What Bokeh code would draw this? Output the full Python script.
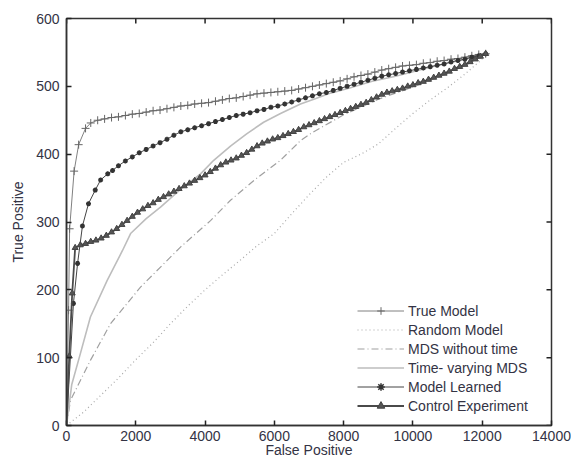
import math
from bokeh.plotting import figure
from bokeh.models import SingleIntervalTicker, Legend, LegendItem, Range1d
from bokeh.embed import file_html
from bokeh.resources import INLINE

# ---------------- data ----------------
true_x = [0, 60, 90, 220, 350, 550, 700, 900, 1100, 1300, 1500, 1700, 1900, 2100, 2300, 2500,
          2700, 2900, 3100, 3300, 3500, 3700, 3900, 4100, 4300, 4500, 4700, 4900, 5100, 5300,
          5500, 5700, 5900, 6100, 6300, 6500, 6700, 6900, 7100, 7300, 7500, 7700, 7900, 8100,
          8300, 8500, 8700, 8900, 9100, 9300, 9500, 9700, 9900, 10100, 10300, 10500, 10700,
          10900, 11100, 11300, 11500, 11700, 11900, 12100]
true_y = [0, 170, 290, 375, 414, 438, 446, 450, 452, 454, 455, 457, 459, 460, 462, 464,
          465, 467, 469, 471, 472, 474, 475, 476, 478, 480, 482, 483, 485, 487,
          489, 490, 491, 492, 493, 494, 496, 498, 500, 502, 504, 506, 508, 511,
          514, 516, 518, 521, 524, 526, 528, 530, 531, 532, 534, 535, 537,
          538, 540, 541, 543, 545, 547, 548]

rand_x = [0, 500, 1000, 1500, 2000, 2500, 3000, 3500, 4000, 4500, 5000, 5500, 6000, 6500,
          7000, 7500, 8000, 8500, 9000, 9500, 10000, 10500, 11000, 11500, 12000]
rand_y = [0, 20, 45, 70, 97, 122, 150, 176, 200, 222, 243, 265, 283, 312,
          340, 366, 388, 400, 415, 438, 460, 480, 498, 518, 540]

mds_x = [0, 115, 690, 1270, 2136, 3290, 4157, 4734, 5500, 6178, 6755, 7100, 8000, 9000,
         10000, 11000, 12000]
mds_y = [0, 37, 96, 150, 204, 263, 302, 332, 365, 391, 420, 432, 458, 481,
         499, 519, 543]

tv_x = [0, 150, 400, 690, 1175, 1617, 1850, 2300, 2714, 3290, 3870, 4250, 4734, 5200,
        5690, 6178, 6755, 7200, 7621, 8200, 8800, 9500, 10500, 11500, 12000]
tv_y = [0, 60, 106, 160, 214, 258, 283, 305, 322, 348, 371, 391, 412, 430,
        447, 460, 474, 482, 490, 498, 507, 515, 528, 540, 545]

learn_x = [0, 200, 320, 460, 635, 830, 985, 1190, 1330, 1500, 1700, 1900, 2100, 2300, 2500,
           2700, 2900, 3100, 3300, 3500, 3700, 3900, 4100, 4300, 4500, 4700, 4900, 5100,
           5300, 5500, 5700, 5900, 6100, 6300, 6500, 6700, 6900, 7100, 7300, 7500, 7700,
           7900, 8100, 8300, 8500, 8700, 8900, 9100, 9300, 9500, 9700, 9900, 10100, 10300,
           10500, 10700, 10900, 11100, 11300, 11500, 11700, 11900, 12100]
learn_y = [0, 180, 239, 294, 327, 347, 362, 371, 376, 383, 390, 396, 402, 407, 412,
           417, 422, 428, 433, 436, 439, 442, 445, 448, 451, 454, 457, 459,
           461, 464, 466, 469, 471, 474, 477, 480, 483, 486, 489, 491, 494,
           497, 500, 503, 506, 509, 512, 515, 517, 519, 521, 523, 525, 527,
           529, 531, 533, 536, 538, 540, 543, 545, 548]

ctrl_x = [0, 80, 165, 250, 400, 550, 700, 850, 1000, 1150, 1300, 1450, 1600, 1750, 1900,
          2050, 2200, 2350, 2500, 2650, 2800, 2950, 3100, 3250, 3400, 3550, 3700, 3850,
          4000, 4150, 4300, 4450, 4600, 4750, 4900, 5050, 5200, 5350, 5500, 5650, 5800,
          5950, 6100, 6250, 6400, 6550, 6700, 6850, 7000, 7150, 7300, 7450, 7600, 7750,
          7900, 8050, 8200, 8350, 8500, 8650, 8800, 8950, 9100, 9250, 9400, 9550, 9700,
          9850, 10000, 10150, 10300, 10450, 10600, 10750, 10900, 11050, 11200, 11350,
          11500, 11650, 11800, 11950, 12100]
ctrl_y = [0, 102, 195, 262, 266, 268, 271, 273, 276, 280, 285, 290, 296, 302, 308,
          314, 319, 324, 328, 333, 337, 341, 345, 349, 353, 357, 361, 365,
          369, 374, 379, 384, 388, 391, 394, 398, 402, 407, 412, 416, 419,
          422, 424, 427, 430, 433, 436, 440, 443, 446, 449, 452, 455, 458,
          461, 464, 467, 470, 473, 476, 480, 484, 488, 491, 493, 495, 497,
          500, 502, 505, 507, 510, 513, 516, 519, 522, 526, 529,
          532, 536, 540, 544, 548]

series_names = ["True Model", "Random Model", "MDS without time", "Time- varying MDS",
                "Model Learned", "Control Experiment"]
x_ticks = [0, 2000, 4000, 6000, 8000, 10000, 12000, 14000]
y_ticks = [0, 100, 200, 300, 400, 500, 600]
x_label = "False Positive"
y_label = "True Positive"
X_MAX, Y_MAX = 14000, 600

# ---------------- figure ----------------
TXT = "#333344"
FONT = "Liberation Sans"

p = figure(width=571, height=461, output_backend="svg", toolbar_location=None,
           x_range=Range1d(0, X_MAX), y_range=Range1d(0, Y_MAX),
           min_border_left=66, min_border_right=20, min_border_top=18, min_border_bottom=36)
p.background_fill_color = "white"
p.border_fill_color = "white"
p.outline_line_color = "#333333"
p.outline_line_width = 1.5
p.grid.visible = False

for ax in (p.xaxis[0], p.yaxis[0]):
    ax.major_tick_in = 5
    ax.major_tick_out = 0
    ax.minor_tick_line_color = None
    ax.axis_line_color = "#333333"
    ax.axis_line_width = 1.5
    ax.major_tick_line_color = "#222222"
    ax.major_tick_line_width = 1.5
    ax.major_label_text_font = FONT
    ax.major_label_text_font_size = "14px"
    ax.major_label_text_color = TXT
    ax.major_label_standoff = 3
    ax.axis_label_text_font = FONT
    ax.axis_label_text_font_size = "14px"
    ax.axis_label_text_font_style = "normal"
    ax.axis_label_text_color = TXT
p.xaxis.ticker = SingleIntervalTicker(interval=2000)
p.yaxis.ticker = SingleIntervalTicker(interval=100)
p.xaxis.axis_label = x_label
p.yaxis.axis_label = y_label
p.xaxis.major_label_standoff = 1
p.xaxis.axis_label_standoff = -2
p.yaxis.axis_label_standoff = 7

# inward ticks on top and right edges (clipped to the frame, so only the inner half shows)
p.scatter(x_ticks, [Y_MAX] * len(x_ticks), marker="dash", angle=math.pi / 2, size=10,
          line_color="#222222", line_width=1.5)
p.scatter([X_MAX] * len(y_ticks), y_ticks, marker="dash", size=10,
          line_color="#222222", line_width=1.5)

# ---------------- series ----------------
r_true_l = p.line(true_x, true_y, line_color="#808080", line_width=1)
r_true_m = p.scatter(true_x[1:], true_y[1:], marker="cross", size=8, line_color="#666666", line_width=1)

r_rand = p.line(rand_x, rand_y, line_color="#a8a8a8", line_width=1.2, line_dash="1 3")

r_mds = p.line(mds_x, mds_y, line_color="#a0a0a0", line_width=1.2, line_dash="7 3 1 3")

r_tv = p.line(tv_x, tv_y, line_color="#bdbdbd", line_width=1.6)

r_learn_l = p.line(learn_x, learn_y, line_color="#444444", line_width=1)
r_learn_m = p.scatter(learn_x[1:], learn_y[1:], marker="asterisk", size=5, line_color="#333333", line_width=1.5)

r_ctrl_l = p.line(ctrl_x, ctrl_y, line_color="#4a4a4a", line_width=1.8)
r_ctrl_m = p.scatter(ctrl_x[1:], ctrl_y[1:], marker="triangle", size=6, fill_color="#555555",
                     line_color="#444444", line_width=1)

legend = Legend(items=[
    LegendItem(label=series_names[0], renderers=[r_true_l, r_true_m]),
    LegendItem(label=series_names[1], renderers=[r_rand]),
    LegendItem(label=series_names[2], renderers=[r_mds]),
    LegendItem(label=series_names[3], renderers=[r_tv]),
    LegendItem(label=series_names[4], renderers=[r_learn_l, r_learn_m]),
    LegendItem(label=series_names[5], renderers=[r_ctrl_l, r_ctrl_m]),
], location=(291, 10))
legend.background_fill_alpha = 0
legend.border_line_color = None
legend.label_text_font = FONT
legend.label_text_font_size = "14px"
legend.label_text_color = TXT
legend.glyph_width = 47
legend.glyph_height = 19
legend.label_height = 19
legend.spacing = 0
legend.padding = 2
legend.margin = 0
legend.label_standoff = 4
p.add_layout(legend, "center")

open("out.html", "w").write(file_html(p, INLINE))
